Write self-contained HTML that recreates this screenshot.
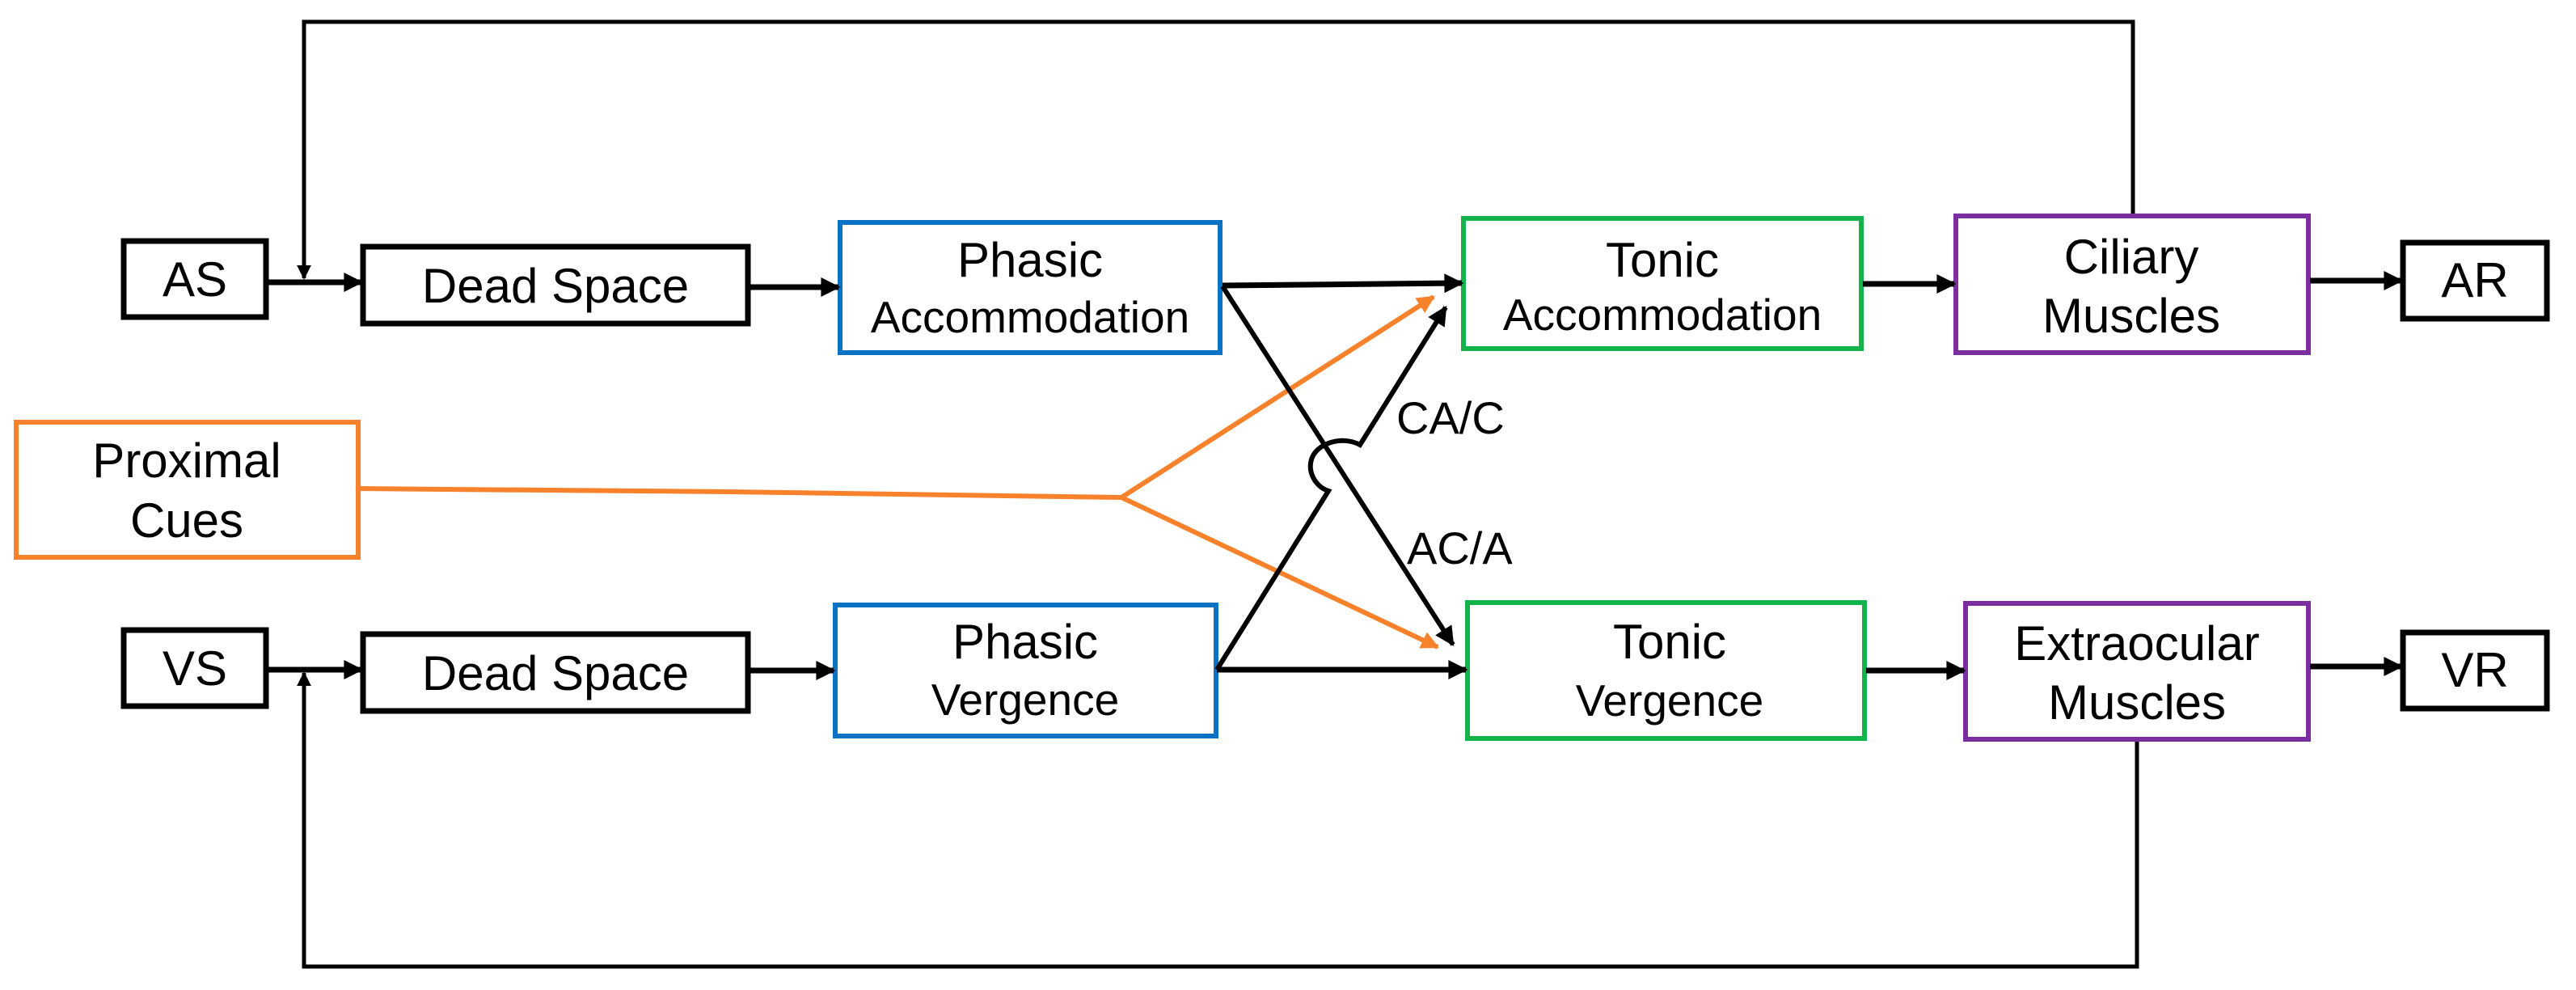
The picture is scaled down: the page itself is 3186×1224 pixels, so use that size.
<!DOCTYPE html>
<html><head><meta charset="utf-8"><style>
html,body{margin:0;padding:0;background:#fff;}
svg{display:block;}
text{font-family:"Liberation Sans",Arial,sans-serif;fill:#000;text-anchor:middle;}
</style></head><body>
<svg width="3186" height="1224" viewBox="0 0 3186 1224" xmlns="http://www.w3.org/2000/svg">
<defs>
<marker id="abig" viewBox="0 0 10 10" refX="9" refY="5" markerWidth="26" markerHeight="24" orient="auto" markerUnits="userSpaceOnUse"><path d="M0,0 L10,5 L0,10 z" fill="#000"/></marker>
<marker id="asm" viewBox="0 0 10 10" refX="9" refY="5" markerWidth="18" markerHeight="18" orient="auto" markerUnits="userSpaceOnUse"><path d="M0,0 L10,5 L0,10 z" fill="#000"/></marker>
<marker id="ao" viewBox="0 0 10 10" refX="9" refY="5" markerWidth="26" markerHeight="22" orient="auto" markerUnits="userSpaceOnUse"><path d="M0,0 L10,5 L0,10 z" fill="#f7822b"/></marker>
</defs>

<polyline points="2638,265 2638,27 376,27 376,344" fill="none" stroke="#000" stroke-width="5" marker-end="url(#asm)"/>
<polyline points="2643,916 2643,1195 376,1195 376,832" fill="none" stroke="#000" stroke-width="5" marker-end="url(#asm)"/>

<g fill="#fff" stroke="#000" stroke-width="7">
<rect x="153" y="298" width="176" height="94"/>
<rect x="449" y="305" width="476" height="95"/>
<rect x="153" y="779" width="176" height="94"/>
<rect x="449" y="784" width="476" height="95"/>
<rect x="2972" y="300" width="178" height="94"/>
<rect x="2972" y="782" width="178" height="94"/>
</g>
<g fill="#fff" stroke-width="6">
<rect x="1039" y="275" width="470" height="161" stroke="#0b72c4"/>
<rect x="1033" y="748" width="471" height="162" stroke="#0b72c4"/>
<rect x="20" y="522" width="423" height="167" stroke="#f7822b"/>
<rect x="1810" y="270" width="492" height="161" stroke="#12b34b"/>
<rect x="1815" y="745" width="491" height="168" stroke="#12b34b"/>
<rect x="2419" y="267" width="436" height="169" stroke="#7a2ea0"/>
<rect x="2431" y="746" width="424" height="168" stroke="#7a2ea0"/>
</g>

<g stroke="#000" stroke-width="7" fill="none">
<line x1="332" y1="349" x2="447" y2="349" marker-end="url(#abig)"/>
<line x1="332" y1="828" x2="447" y2="828" marker-end="url(#abig)"/>
<line x1="927" y1="355" x2="1037" y2="355" marker-end="url(#abig)"/>
<line x1="927" y1="829" x2="1031" y2="829" marker-end="url(#abig)"/>
<line x1="1512" y1="353" x2="1808" y2="350" marker-end="url(#abig)"/>
<line x1="1505" y1="828" x2="1813" y2="828" marker-end="url(#abig)"/>
<line x1="2304" y1="351" x2="2417" y2="351" marker-end="url(#abig)"/>
<line x1="2308" y1="829" x2="2429" y2="829" marker-end="url(#abig)"/>
<line x1="2857" y1="347" x2="2970" y2="347" marker-end="url(#abig)"/>
<line x1="2857" y1="824" x2="2970" y2="824" marker-end="url(#abig)"/>
</g>

<g stroke="#f7822b" stroke-width="6" fill="none">
<polyline points="443,604 900,608 1387,615"/>
<line x1="1387" y1="615" x2="1773" y2="367" marker-end="url(#ao)"/>
<line x1="1387" y1="615" x2="1778" y2="800" marker-end="url(#ao)"/>
</g>

<g stroke="#000" stroke-width="6" fill="none">
<line x1="1512" y1="354" x2="1797" y2="797" marker-end="url(#abig)"/>
<path d="M1505,828 L1643,607 C1628,602 1617,585 1622,568 C1628,548 1660,538 1682,550 L1788,380" marker-end="url(#abig)"/>
</g>

<g font-size="60">
<text x="241" y="366">AS</text>
<text x="687" y="374">Dead Space</text>
<text x="241" y="847">VS</text>
<text x="687" y="853">Dead Space</text>
<text x="3061" y="367">AR</text>
<text x="3061" y="849">VR</text>
<text x="1274" y="342">Phasic</text>
<text x="1268" y="814">Phasic</text>
<text x="231" y="590">Proximal</text>
<text x="231" y="664">Cues</text>
<text x="2056" y="342">Tonic</text>
<text x="2065" y="814">Tonic</text>
<text x="2636" y="338">Ciliary</text>
<text x="2636" y="411">Muscles</text>
<text x="2643" y="816">Extraocular</text>
<text x="2643" y="889">Muscles</text>
</g>
<g font-size="55">
<text x="1274" y="411">Accommodation</text>
<text x="1268" y="884">Vergence</text>
<text x="2056" y="408">Accommodation</text>
<text x="2065" y="885">Vergence</text>
</g>
<g font-size="56">
<text x="1727" y="536" style="text-anchor:start">CA/C</text>
<text x="1740" y="697" style="text-anchor:start">AC/A</text>
</g>
</svg>
</body></html>
